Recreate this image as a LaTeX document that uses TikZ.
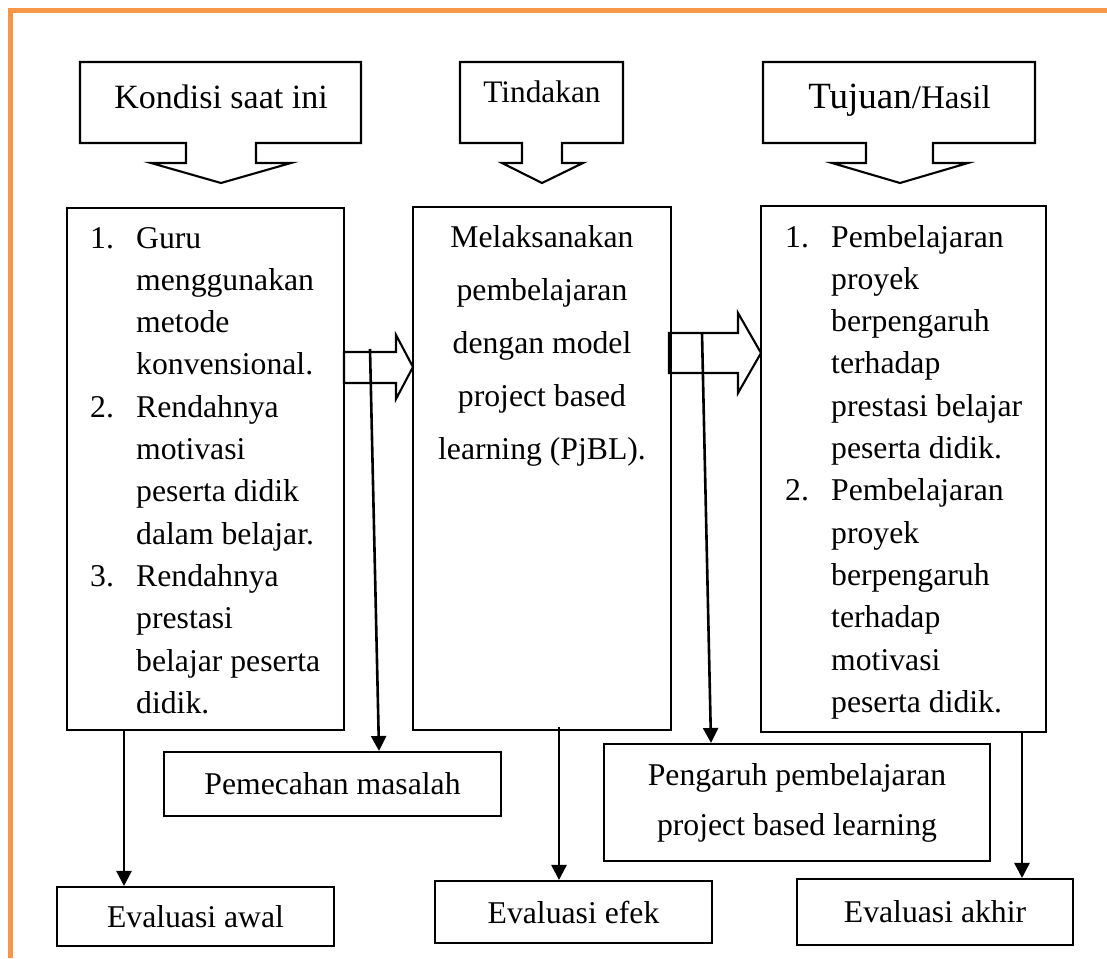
\documentclass[tikz,border=0pt]{standalone}
\usepackage{fontspec}
\setmainfont{Liberation Serif}
\usetikzlibrary{arrows.meta}
\definecolor{borderorange}{HTML}{F79646}
\newcommand{\bodyfont}{\fontsize{31.7}{42.3}\selectfont}
\newcommand{\itemno}[1]{\makebox[46pt][l]{#1}}
\newcommand{\itemind}{\hspace*{46pt}}
\begin{document}
\begin{tikzpicture}[x=1pt,y=-1pt,
  box/.style={draw, line width=2.1pt, inner sep=0pt, font=\bodyfont},
  shapeline/.style={draw, line width=2.1pt, line join=miter},
  txt/.style={inner sep=0pt},
  conn/.style={line width=2.6pt, -{Triangle[width=15pt,length=15pt]}}]
\useasboundingbox (0,0) rectangle (1107,958);
\fill[white] (0,0) rectangle (1107,958);
% page border
\draw[borderorange, line width=5pt] (10,958) -- (10,11) -- (1107,11);

% callouts
\draw[shapeline] (80,62) -- (361,62) -- (361,143) -- (256,143) -- (256,163) -- (291,163)
  -- (221,183) -- (151,163) -- (186,163) -- (186,143) -- (80,143) -- cycle;
\draw[shapeline] (460,62) -- (623,62) -- (623,143) -- (562,143) -- (562,163) -- (583,163)
  -- (542,183) -- (502,163) -- (522,163) -- (522,143) -- (460,143) -- cycle;
\draw[shapeline] (763,62) -- (1035,62) -- (1035,143) -- (933,143) -- (933,163) -- (968,163)
  -- (900,183) -- (832,163) -- (866,163) -- (866,143) -- (763,143) -- cycle;
\node[txt, anchor=base, font=\fontsize{34}{40}\selectfont] (k1) at (221,108) {Kondisi saat ini};
\node[txt, anchor=base, font=\fontsize{31.3}{40}\selectfont] (k2) at (542,102) {Tindakan};
\node[txt, anchor=base] (k3) at (899.5,108) {{\fontsize{37}{40}\selectfont Tujuan}{\fontsize{33}{40}\selectfont /Hasil}};

% main boxes
\node[box, minimum width=277pt, minimum height=522pt] (b1) at (205.5,469) {};
\node[box, minimum width=258pt, minimum height=523pt] (b2) at (542,468.5) {};
\node[box, minimum width=285pt, minimum height=526pt] (b3) at (903.5,469) {};

\node[txt, anchor=base west] (t1) at (90,248) {\parbox[t]{250pt}{\bodyfont
\itemno{1.}Guru\\
\itemind menggunakan\\
\itemind metode\\
\itemind konvensional.\\
\itemno{2.}Rendahnya\\
\itemind motivasi\\
\itemind peserta didik\\
\itemind dalam belajar.\\
\itemno{3.}Rendahnya\\
\itemind prestasi\\
\itemind belajar peserta\\
\itemind didik.}};

\node[txt, anchor=base] (t2) at (542,247) {\parbox[t]{250pt}{\centering\fontsize{31.7}{53}\selectfont
Melaksanakan\\
pembelajaran\\
dengan model\\
project based\\
learning (PjBL).}};

\node[txt, anchor=base west] (t3) at (785,247) {\parbox[t]{255pt}{\bodyfont
\itemno{1.}Pembelajaran\\
\itemind proyek\\
\itemind berpengaruh\\
\itemind terhadap\\
\itemind prestasi belajar\\
\itemind peserta didik.\\
\itemno{2.}Pembelajaran\\
\itemind proyek\\
\itemind berpengaruh\\
\itemind terhadap\\
\itemind motivasi\\
\itemind peserta didik.}};

% block arrows
\draw[shapeline] (344,352) -- (396,352) -- (396,335) -- (413,367) -- (396,399) -- (396,383) -- (344,383) -- cycle;
\draw[shapeline] (669,333) -- (738,333) -- (738,313) -- (761,353) -- (738,393) -- (738,373) -- (669,373) -- cycle;

% lower boxes
\node[box, minimum width=337pt, minimum height=64pt] (pm) at (332.5,784) {Pemecahan masalah};
\node[box, minimum width=277pt, minimum height=59pt] (e1) at (195.5,916.5) {Evaluasi awal};
\node[box, minimum width=277pt, minimum height=62pt] (e2) at (573.5,912) {Evaluasi efek};
\node[box, minimum width=386pt, minimum height=117pt, align=center,
  font=\fontsize{31.7}{50}\selectfont] (pg) at (797,802.5) {Pengaruh pembelajaran\\project based learning};
\node[box, minimum width=276pt, minimum height=66pt] (e3) at (935,912) {Evaluasi akhir};

% connectors
\coordinate (s1) at (124,731);
\draw[conn] (s1) -- (s1 |- e1.north);
\coordinate (s2) at (370,349);
\coordinate (q2) at (379,0);
\draw[conn] (s2) -- (q2 |- pm.north);
\coordinate (s3) at (559,727);
\draw[conn] (s3) -- (s3 |- e2.north);
\coordinate (s4) at (702,333);
\coordinate (q4) at (711,0);
\draw[conn] (s4) -- (q4 |- pg.north);
\coordinate (s5) at (1022,732);
\draw[conn] (s5) -- (s5 |- e3.north);
\end{tikzpicture}
\end{document}
